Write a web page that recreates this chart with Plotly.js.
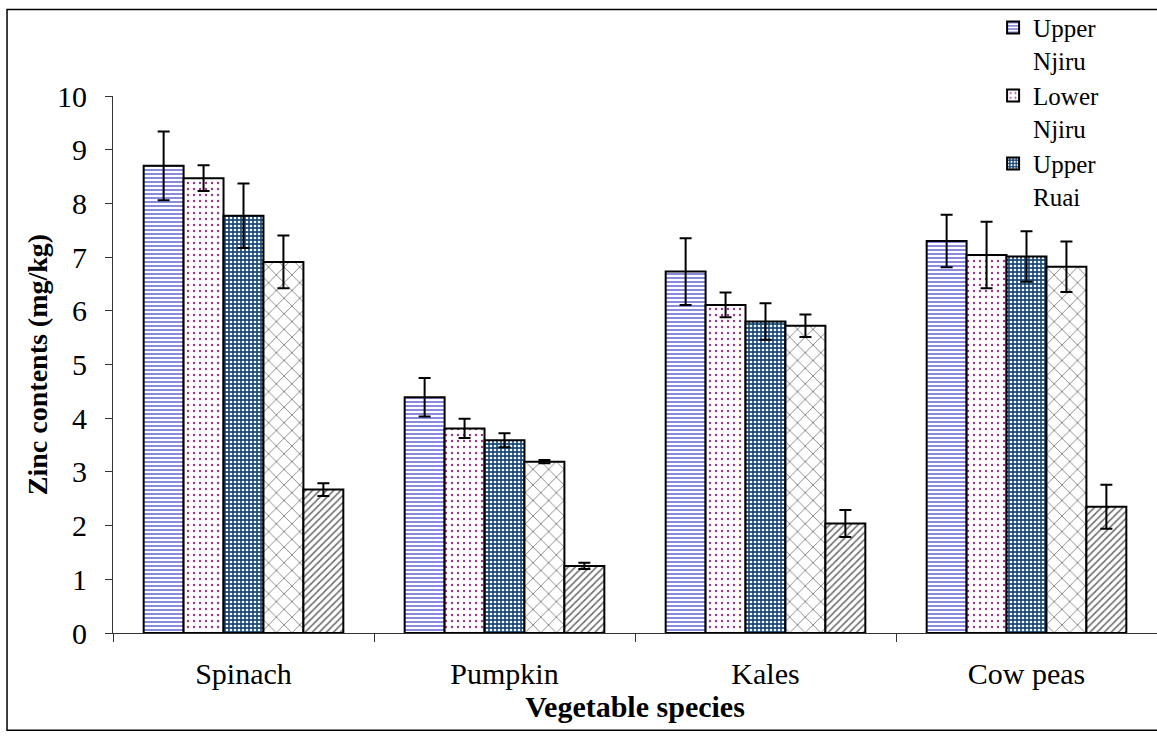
<!DOCTYPE html>
<html>
<head>
<meta charset="utf-8">
<script src="https://cdn.plot.ly/plotly-3.0.1.min.js"></script>
<style>
  html, body { margin: 0; padding: 0; background: #fff; }
  #chart { width: 1157px; height: 736px; }
</style>
</head>
<body>
<div id="chart"></div>
<script>
// Categories and tick labels
const categories = ["Spinach", "Pumpkin", "Kales", "Cow peas"];

// Series names (only the first three are visible in the legend of the reference)
const seriesNames = ["Upper<br>Njiru", "Lower<br>Njiru", "Upper<br>Ruai", "Lower<br>Ruai", "Control"];

// Zinc contents (mg/kg) per series, in category order
const upperNjiru = [8.70, 4.39, 6.73, 7.30];
const lowerNjiru = [8.47, 3.81, 6.11, 7.04];
const upperRuai  = [7.77, 3.59, 5.80, 7.01];
const lowerRuai  = [6.91, 3.19, 5.72, 6.82];
const control    = [2.67, 1.25, 2.04, 2.35];

// Error (± values)
const errUpperNjiru = [0.64, 0.36, 0.62, 0.49];
const errLowerNjiru = [0.24, 0.18, 0.23, 0.62];
const errUpperRuai  = [0.60, 0.13, 0.34, 0.47];
const errLowerRuai  = [0.49, 0.03, 0.21, 0.47];
const errControl    = [0.12, 0.06, 0.25, 0.41];

const values = [upperNjiru, lowerNjiru, upperRuai, lowerRuai, control];
const errors = [errUpperNjiru, errLowerNjiru, errUpperRuai, errLowerRuai, errControl];

const patterns = [
  {shape: "-", fgcolor: "#3a3ac8", bgcolor: "#ffffff", size: 4, solidity: 0.3},
  {shape: ".", fgcolor: "#a0308a", bgcolor: "#ffffff", size: 6, solidity: 0.12},
  {shape: ".", fgcolor: "#ffffff", bgcolor: "#1b4a78", size: 4, solidity: 0.35},
  {shape: "x", fgcolor: "#7a7a7a", bgcolor: "#ffffff", size: 11, solidity: 0.15},
  {shape: "/", fgcolor: "#6a6a6a", bgcolor: "#ffffff", size: 5, solidity: 0.3}
];

const traces = values.map((v, i) => ({
  type: "bar",
  name: seriesNames[i],
  x: categories,
  y: v,
  showlegend: i < 3,
  marker: {
    color: "#ffffff",
    pattern: patterns[i],
    line: {color: "#000000", width: 2}
  },
  error_y: {
    type: "data",
    array: errors[i],
    visible: true,
    color: "#000000",
    thickness: 2,
    width: 6
  }
}));

const font = "'Times New Roman', 'Liberation Serif', Times, 'DejaVu Serif', serif";

const layout = {
  width: 1157,
  height: 736,
  margin: {l: 113, r: 0, t: 96, b: 103},
  paper_bgcolor: "#ffffff",
  plot_bgcolor: "#ffffff",
  barmode: "group",
  bargap: 0.235,
  bargroupgap: 0,
  font: {family: font, size: 28, color: "#000000"},
  xaxis: {
    showline: true,
    linecolor: "#333333",
    linewidth: 1,
    ticks: "outside",
    tickson: "boundaries",
    ticklen: 8,
    tickcolor: "#333333",
    ticklabelstandoff: 14,
    tickfont: {family: font, size: 30, color: "#000000"},
    showgrid: false,
    zeroline: false,
    title: {text: "<b>Vegetable species</b>", font: {family: font, size: 30, color: "#000000"}, standoff: 2}
  },
  yaxis: {
    range: [0, 10],
    dtick: 1,
    showline: true,
    linecolor: "#333333",
    linewidth: 1,
    ticks: "outside",
    ticklen: 7,
    tickcolor: "#333333",
    ticklabelstandoff: 12,
    tickfont: {family: font, size: 30, color: "#000000"},
    showgrid: false,
    zeroline: false,
    title: {text: "<b>Zinc contents (mg/kg)</b>", font: {family: font, size: 28, color: "#000000"}, standoff: 1}
  },
  legend: {
    x: 0.843,
    xanchor: "left",
    y: 1.17,
    yanchor: "top",
    bgcolor: "rgba(0,0,0,0)",
    font: {family: font, size: 25, color: "#000000"},
    tracegroupgap: 0,
    itemwidth: 30,
    valign: "top"
  },
  shapes: [{
    type: "rect",
    xref: "paper", yref: "paper",
    x0: -0.1015, x1: 1.05,
    y0: -0.181, y1: 1.161,
    line: {color: "#000000", width: 1.5},
    fillcolor: "rgba(0,0,0,0)",
    layer: "below"
  }]
};

Plotly.newPlot("chart", traces, layout, {displayModeBar: false, staticPlot: true});
</script>
</body>
</html>
